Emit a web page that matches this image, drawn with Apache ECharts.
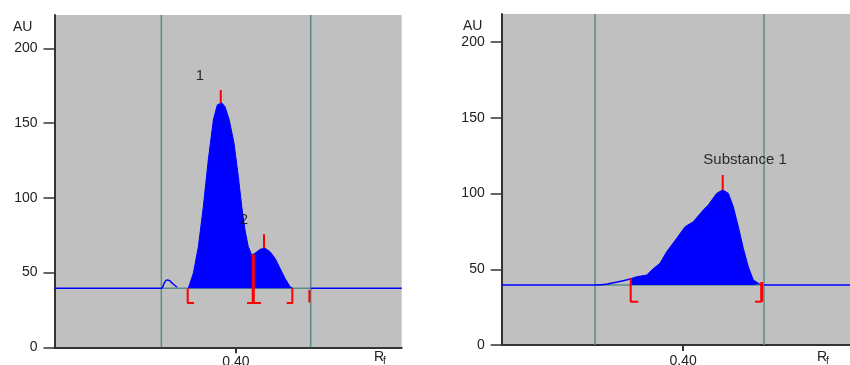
<!DOCTYPE html>
<html>
<head>
<meta charset="utf-8">
<script src="https://cdn.jsdelivr.net/npm/echarts@6/dist/echarts.min.js"></script>
<style>
  html, body { margin: 0; padding: 0; background: #fff; }
  #chart { width: 850px; height: 365px; }
</style>
</head>
<body>
<div id="chart"></div>
<script>
// x = Rf, y = AU
const RF_MIN = 0.17, RF_MAX_L = 0.6100, RF_MAX_R = 0.6114
const AU_MAX_L = 222.4, AU_MAX_R = 218.6
const AU_TICKS = [0, 50, 100, 150, 200]
const RF_TICKS = [0.40]

// left track
const baseL = 39.5
const cursorsL = [0.3054, 0.4947]
const bumpRfL = [0.3054, 0.3090, 0.3122, 0.3160, 0.3189, 0.3253]
const bumpAuL = [39.5, 43.0, 45.0, 44.6, 43.0, 40.2]
const peakRfL = [0.3396, 0.3459, 0.3523, 0.3586, 0.3649, 0.3713, 0.3763, 0.3819, 0.3861, 0.3915, 0.3975, 0.4030, 0.4073,
                 0.4114, 0.4156, 0.4199, 0.4241, 0.4305, 0.4368, 0.4431, 0.4495, 0.4558, 0.4621, 0.4685, 0.4719]
const peakAuL = [39.5, 49.5, 67.3, 94.1, 125.4, 152.1, 162.2, 163.7, 161.0, 152.1, 136.5, 114.2, 94.1,
                 78.5, 67.3, 61.8, 62.9, 65.6, 66.3, 64.0, 59.6, 52.9, 46.2, 40.6, 39.5]
const bracketsL = [
  [[0.3388, 39.5], [0.3388, 29.7], [0.3468, 29.7]],
  [[0.4714, 39.5], [0.4714, 29.7], [0.4643, 29.7]],
  [[0.4140, 29.7], [0.4317, 29.7]],
  [[0.4930, 38.4], [0.4930, 29.9]],
  [[0.3807, 163.5], [0.3807, 172.2]],
  [[0.4355, 66.3], [0.4355, 75.6]],
]
const dividerL = [[0.4219, 62.3], [0.4219, 29.7]]
const namesL = ['1', '2']
const namePosL = [[0.3544, 181.8], [0.4102, 85.2]]

// right track
const baseR = 39.6
const cursorsR = [0.2883, 0.5024]
const leadRfR = [0.3031, 0.3114, 0.3241, 0.3335]
const leadAuR = [40.1, 41.1, 42.5, 43.8]
const peakRfR = [0.3335, 0.3411, 0.3538, 0.3601, 0.3706, 0.3791, 0.3918, 0.4023, 0.4128, 0.4255, 0.4318,
                 0.4425, 0.4501, 0.4572, 0.4635, 0.4699, 0.4762, 0.4825, 0.4889, 0.4974, 0.4995]
const peakAuR = [43.8, 45.1, 46.2, 49.5, 54.0, 61.6, 70.5, 78.1, 81.4, 89.2, 92.5,
                 100.2, 102.4, 100.2, 91.3, 78.1, 63.9, 51.7, 42.9, 40.1, 39.6]
const bracketsR = [
  [[0.3335, 44.1], [0.3335, 28.6], [0.3431, 28.6]],
  [[0.4995, 28.6], [0.4910, 28.6]],
  [[0.4501, 102.4], [0.4501, 112.3]],
]
const dividerR = [[0.4995, 41.6], [0.4995, 28.6]]
const namesR = ['Substance 1']
const namePosR = [[0.4784, 122.2]]

const BLUE = '#0000ff', RED = '#ff0000', TEAL = '#5a8c8c', AXIS = '#333'
const FONT = 'Liberation Sans'

const pts = (xs, ys) => xs.map((x, i) => [x, ys[i]])

function xAxisOf(idx, max, margin) {
  return {
    type: 'value', gridIndex: idx, min: RF_MIN, max: max,
    axisLine: { onZero: false, lineStyle: { color: AXIS, width: 2 } },
    axisTick: { customValues: RF_TICKS, length: 6, lineStyle: { color: AXIS, width: 2 } },
    axisLabel: { customValues: RF_TICKS, margin: margin, color: '#222', fontSize: 14, fontFamily: FONT,
                 formatter: v => v.toFixed(2) },
    splitLine: { show: false },
  }
}
function yAxisOf(idx, max) {
  return {
    type: 'value', gridIndex: idx, min: 0, max: max,
    axisLine: { show: true, onZero: false, lineStyle: { color: AXIS, width: 2 } },
    axisTick: { show: true, customValues: AU_TICKS, length: 11, lineStyle: { color: AXIS, width: 1.5 } },
    axisLabel: { customValues: AU_TICKS, margin: 17, color: '#222', fontSize: 14, fontFamily: FONT },
    splitLine: { show: false },
  }
}
function lineSeries(idx, data, color, width, extra) {
  return Object.assign({
    type: 'line', xAxisIndex: idx, yAxisIndex: idx, data: data, symbol: 'none', silent: true,
    lineStyle: { color: color, width: width }, z: 3,
  }, extra || {})
}
function trackSeries(idx, base, cursors, max, auMax, peakData, brackets, divider, names, namePos, preData) {
  const s = []
  // cursor lines over the full height
  cursors.forEach(c => s.push(lineSeries(idx, [[c, 0], [c, auMax]], TEAL, 1.5, { z: 2 })))
  s.push(lineSeries(idx, [[cursors[0], base], [cursors[1], base]], TEAL, 1.5, { z: 2 }))
  s.push(lineSeries(idx, [[RF_MIN, base]].concat(preData), BLUE, 1.5, { smooth: 0.3 }))
  s.push(lineSeries(idx, [[cursors[1], base], [max, base]], BLUE, 1.5))
  s.push(lineSeries(idx, peakData, BLUE, 1, { areaStyle: { color: BLUE, opacity: 1, origin: base }, z: 4 }))
  brackets.forEach(b => s.push(lineSeries(idx, b, RED, 2, { z: 5 })))
  s.push(lineSeries(idx, divider, RED, 3, { z: 5 }))
  s.push({
    type: 'scatter', xAxisIndex: idx, yAxisIndex: idx, symbolSize: 0, silent: true, z: 6,
    data: namePos.map((p, i) => ({ value: p, name: names[i] })),
    label: { show: true, position: 'inside', formatter: p => p.name, color: '#000', fontSize: 15, fontFamily: FONT },
  })
  return s
}

const chart = echarts.init(document.getElementById('chart'), null, { renderer: 'canvas' })
chart.setOption({
  animation: false,
  backgroundColor: '#fff',
  grid: [
    { left: 54.5, top: 15, width: 347.2, bottom: 17.7, show: true, backgroundColor: '#c0c0c0', borderWidth: 0,
      containLabel: false, outerBoundsMode: 'none' },
    { left: 501.7, top: 14, right: 0, bottom: 20, show: true, backgroundColor: '#c0c0c0', borderWidth: 0,
      containLabel: false, outerBoundsMode: 'none' },
  ],
  xAxis: [xAxisOf(0, RF_MAX_L, 8), xAxisOf(1, RF_MAX_R, 9)],
  yAxis: [yAxisOf(0, AU_MAX_L), yAxisOf(1, AU_MAX_R)],
  graphic: [
    { type: 'text', left: 13, top: 20, style: { text: 'AU', fontSize: 14, fontFamily: FONT, fill: '#222' } },
    { type: 'text', left: 463, top: 19, style: { text: 'AU', fontSize: 14, fontFamily: FONT, fill: '#222' } },
    { type: 'text', left: 374, top: 350, style: { text: 'R', fontSize: 14, fontFamily: FONT, fill: '#222' } },
    { type: 'text', left: 383, top: 356, style: { text: 'f', fontSize: 10, fontFamily: FONT, fill: '#222' } },
    { type: 'text', left: 817, top: 350, style: { text: 'R', fontSize: 14, fontFamily: FONT, fill: '#222' } },
    { type: 'text', left: 826, top: 356, style: { text: 'f', fontSize: 10, fontFamily: FONT, fill: '#222' } },
  ],
  series: [
    ...trackSeries(0, baseL, cursorsL, RF_MAX_L, AU_MAX_L, pts(peakRfL, peakAuL), bracketsL, dividerL, namesL, namePosL,
                   pts(bumpRfL, bumpAuL)),
    ...trackSeries(1, baseR, cursorsR, RF_MAX_R, AU_MAX_R, pts(peakRfR, peakAuR), bracketsR, dividerR, namesR, namePosR,
                   [[cursorsR[0], baseR]].concat(pts(leadRfR, leadAuR))),
  ],
})
</script>
</body>
</html>
